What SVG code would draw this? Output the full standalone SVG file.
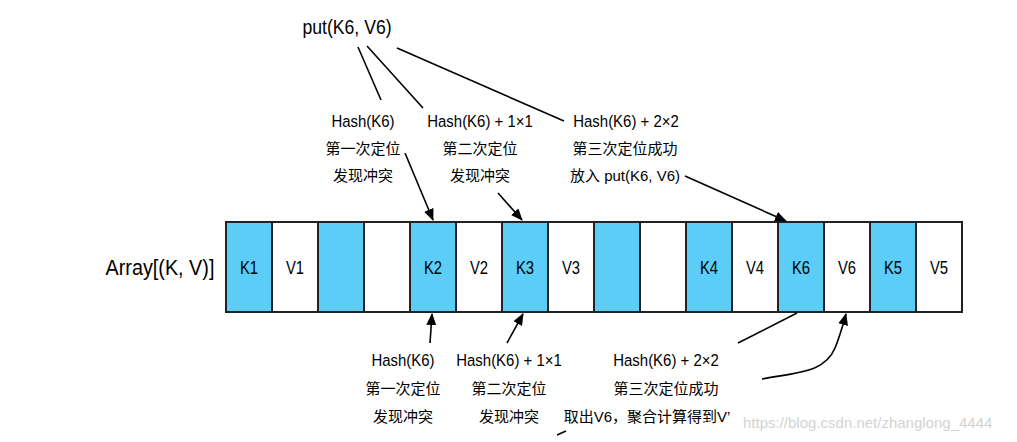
<svg xmlns="http://www.w3.org/2000/svg" width="1017" height="442" viewBox="0 0 1017 442">
<defs>
<marker id="ah" viewBox="0 0 12 10" refX="11" refY="5" markerWidth="12" markerHeight="10" markerUnits="userSpaceOnUse" orient="auto">
<path d="M0,0 L12,5 L0,10 Z" fill="#000"/>
</marker>
</defs>
<style>
text{font-family:"Liberation Sans","Noto Sans CJK SC",Arial,sans-serif;fill:#000}
.lbl{font-size:15px;text-anchor:middle}
.n{font-size:17px;transform-box:fill-box;transform-origin:center;transform:scaleX(0.88)}
.cell{stroke:#222;stroke-width:2}
.k{fill:#5ccdf6}
.v{fill:#fff}
.ct{font-size:19px;text-anchor:middle;transform-box:fill-box;transform-origin:center;transform:scaleX(0.78)}
.con{stroke:#000;stroke-width:1.6;fill:none}
.arr{marker-end:url(#ah)}
.wm{font-size:15px;fill:#d3d3d3}
</style>
<rect width="1017" height="442" fill="#fff"/>
<g id="put">
<text x="347" y="34" font-size="21" text-anchor="middle" style="transform-box:fill-box;transform-origin:center;transform:scaleX(0.84)">put(K6, V6)</text>
</g>
<g id="array-label">
<text x="160" y="275" font-size="22" text-anchor="middle" style="transform-box:fill-box;transform-origin:center;transform:scaleX(0.9)">Array[(K, V)]</text>
</g>
<g id="array">
<rect class="cell k" x="226" y="222" width="46" height="90"/>
<rect class="cell v" x="272" y="222" width="46" height="90"/>
<rect class="cell k" x="318" y="222" width="46" height="90"/>
<rect class="cell v" x="364" y="222" width="46" height="90"/>
<rect class="cell k" x="410" y="222" width="46" height="90"/>
<rect class="cell v" x="456" y="222" width="46" height="90"/>
<rect class="cell k" x="502" y="222" width="46" height="90"/>
<rect class="cell v" x="548" y="222" width="46" height="90"/>
<rect class="cell k" x="594" y="222" width="46" height="90"/>
<rect class="cell v" x="640" y="222" width="46" height="90"/>
<rect class="cell k" x="686" y="222" width="46" height="90"/>
<rect class="cell v" x="732" y="222" width="46" height="90"/>
<rect class="cell k" x="778" y="222" width="46" height="90"/>
<rect class="cell v" x="824" y="222" width="46" height="90"/>
<rect class="cell k" x="870" y="222" width="46" height="90"/>
<rect class="cell v" x="916" y="222" width="46" height="90"/>
<text class="ct" x="249" y="274">K1</text>
<text class="ct" x="295" y="274">V1</text>
<text class="ct" x="433" y="274">K2</text>
<text class="ct" x="479" y="274">V2</text>
<text class="ct" x="525" y="274">K3</text>
<text class="ct" x="571" y="274">V3</text>
<text class="ct" x="709" y="274">K4</text>
<text class="ct" x="755" y="274">V4</text>
<text class="ct" x="801" y="274">K6</text>
<text class="ct" x="847" y="274">V6</text>
<text class="ct" x="893" y="274">K5</text>
<text class="ct" x="939" y="274">V5</text>
</g>
<g id="top-1">
<text class="lbl n" x="363" y="127">Hash(K6)</text>
<text class="lbl" x="363" y="154">第一次定位</text>
<text class="lbl" x="363" y="181">发现冲突</text>
</g>
<g id="top-2">
<text class="lbl n" x="480" y="127">Hash(K6) + 1×1</text>
<text class="lbl" x="480" y="154">第二次定位</text>
<text class="lbl" x="480" y="181">发现冲突</text>
</g>
<g id="top-3">
<text class="lbl n" x="626" y="127">Hash(K6) + 2×2</text>
<text class="lbl" x="625" y="154">第三次定位成功</text>
<text class="lbl" x="625" y="181">放入 put(K6, V6)</text>
</g>
<g id="bottom-1">
<text class="lbl n" x="403" y="366">Hash(K6)</text>
<text class="lbl" x="403" y="394">第一次定位</text>
<text class="lbl" x="403" y="422">发现冲突</text>
</g>
<g id="bottom-2">
<text class="lbl n" x="509" y="366">Hash(K6) + 1×1</text>
<text class="lbl" x="509" y="394">第二次定位</text>
<text class="lbl" x="509" y="422">发现冲突</text>
</g>
<g id="bottom-3">
<text class="lbl n" x="666" y="366">Hash(K6) + 2×2</text>
<text class="lbl" x="666" y="394">第三次定位成功</text>
<text class="lbl" x="647" y="422">取出V6，聚合计算得到V’</text>
</g>
<g id="connectors">
<line class="con" x1="358" y1="47" x2="381" y2="100"/>
<line class="con" x1="367" y1="46" x2="423" y2="108"/>
<line class="con" x1="397" y1="48" x2="564" y2="121"/>
<line class="con arr" x1="405" y1="153" x2="433" y2="220"/>
<line class="con arr" x1="498" y1="193" x2="522" y2="220"/>
<line class="con arr" x1="685" y1="176" x2="786" y2="221"/>
<line class="con arr" x1="430" y1="343" x2="432" y2="314"/>
<line class="con arr" x1="507" y1="343" x2="523" y2="314"/>
<line class="con" x1="797" y1="313" x2="738" y2="343"/>
<path class="con arr" d="M762,379 C800,372 825,372 835,348 C840,336 843,325 846,314"/>
<line class="con" x1="557" y1="435" x2="566" y2="431"/>
</g>
<g id="watermark">
<text class="wm" x="743" y="428">https://blog.csdn.net/zhanglong_4444</text>
</g>
</svg>
